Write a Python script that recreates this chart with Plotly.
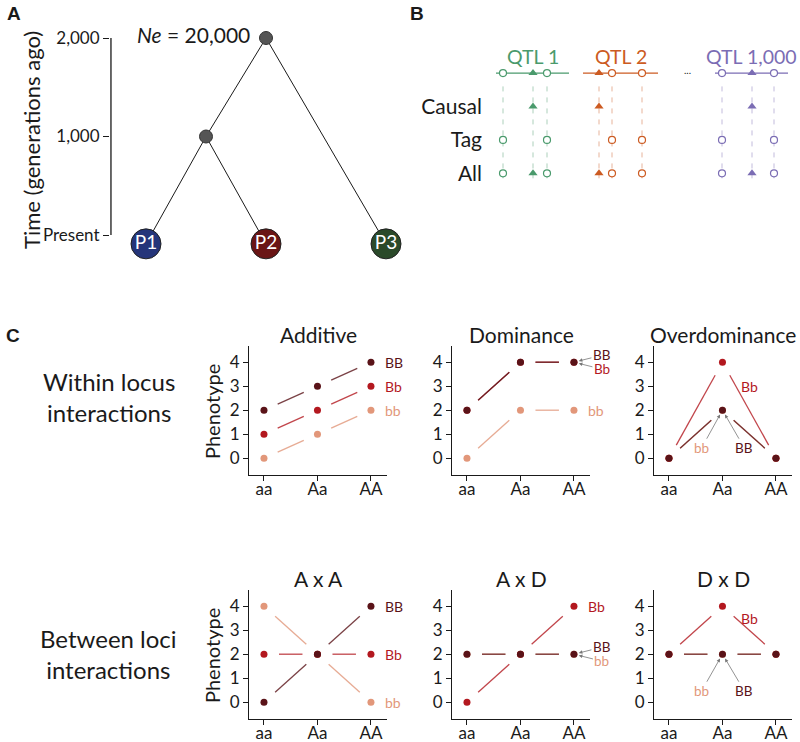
import plotly.graph_objects as go

W, H = 800, 742
FONT = "Lato"

# ---- panel A: population tree
pop_names = ["P1", "P2", "P3"]
pop_x = [0, 1, 2]
pop_colors = ["#25357a", "#6a1515", "#2b4a2a"]
node_x = [1.0, 0.5]          # root, inner split
node_time = [2000, 1000]
time_ticks = [0, 1000, 2000]
time_labels = ["Present", "1,000", "2,000"]
ne_text = "20,000"

# ---- panel B: QTL / SNP sets
qtl_names = ["QTL 1", "QTL 2", "QTL 1,000"]
qtl_start = [11, 98, 230]
qtl_end = [84, 173, 303]
qtl_snps = [[18, 48, 62], [114, 127, 157], [237, 267, 289]]
qtl_causal = [[0, 1, 0], [1, 0, 0], [0, 1, 0]]
qtl_colors = ["#4a9a6c", "#cc5b22", "#7b6db4"]
snp_rows = ["Causal", "Tag", "All"]

# ---- panel C: genotype x phenotype
genotypes = ["aa", "Aa", "AA"]
models = ["Additive", "Dominance", "Overdominance", "A x A", "A x D", "D x D"]
BB = [[2, 3, 4], [2, 4, 4], [0, 2, 0], [0, 2, 4], [2, 2, 2], [2, 2, 2]]
Bb = [[1, 2, 3], [2, 4, 4], [0, 4, 0], [2, 2, 2], [0, 2, 4], [2, 4, 2]]
bb = [[0, 1, 2], [0, 2, 2], [0, 2, 0], [4, 2, 0], [2, 2, 2], [2, 2, 2]]
b_colors = {"BB": "#5a1318", "Bb": "#b3181f", "bb": "#e2977a"}


def px(x):
    return x / W


def py(y):
    return 1 - y / H


fig = go.Figure()
black = "#1a1a1a"

# ================= panel A =================
POP_Y = -90  # circles sit a little below the "Present" tick
edges = [(node_x[0], node_time[0], node_x[1], node_time[1]),
         (node_x[1], node_time[1], pop_x[0], POP_Y),
         (node_x[1], node_time[1], pop_x[1], POP_Y),
         (node_x[0], node_time[0], pop_x[2], POP_Y)]
ex, ey = [], []
for x0, y0, x1, y1 in edges:
    ex += [x0, x1, None]
    ey += [y0, y1, None]
# time axis line (0 .. 2000 only)
fig.add_trace(go.Scatter(x=[-0.292, -0.292], y=[0, 2000], mode="lines",
                         line=dict(color=black, width=1.3), xaxis="x", yaxis="y", hoverinfo="skip"))
fig.add_trace(go.Scatter(x=ex, y=ey, mode="lines", line=dict(color=black, width=1),
                         xaxis="x", yaxis="y", hoverinfo="skip"))
fig.add_trace(go.Scatter(x=node_x, y=node_time, mode="markers", cliponaxis=False,
                         marker=dict(size=13, color="#555555", line=dict(color="#333", width=1)),
                         xaxis="x", yaxis="y"))
fig.add_trace(go.Scatter(x=pop_x, y=[POP_Y] * 3, mode="markers+text", cliponaxis=False,
                         text=pop_names, textposition="middle center",
                         textfont=dict(color="white", size=19, family=FONT),
                         marker=dict(size=30, color=pop_colors, line=dict(color="#222", width=1)),
                         xaxis="x", yaxis="y"))

# ================= panel B =================
for q in range(len(qtl_names)):
    c = qtl_colors[q]
    for p in qtl_snps[q]:
        fig.add_trace(go.Scatter(x=[p, p], y=[2.6, -0.15], mode="lines", opacity=0.45,
                                 line=dict(color=c, width=1, dash="5px,6px"),
                                 xaxis="x2", yaxis="y2", hoverinfo="skip"))
    fig.add_trace(go.Scatter(x=[qtl_start[q], qtl_end[q]], y=[3, 3], mode="lines",
                             line=dict(color=c, width=1.3), xaxis="x2", yaxis="y2"))
    circ = [p for p, k in zip(qtl_snps[q], qtl_causal[q]) if not k]
    tri = [p for p, k in zip(qtl_snps[q], qtl_causal[q]) if k]
    for row in [3, 0, 1]:
        fig.add_trace(go.Scatter(x=circ, y=[row] * len(circ), mode="markers", cliponaxis=False,
                                 marker=dict(symbol="circle", size=7, color="white",
                                             line=dict(color=c, width=1.2)),
                                 xaxis="x2", yaxis="y2"))
    for row in [3, 2, 0]:
        fig.add_trace(go.Scatter(x=tri, y=[row] * len(tri), mode="markers", cliponaxis=False,
                                 marker=dict(symbol="triangle-up", size=8, color=c),
                                 xaxis="x2", yaxis="y2"))

# ================= panel C =================
COL_L = [249, 452, 654]
COL_W = 138
ROW_T = [346, 590]
ROW_H = 129
XR = [-0.28, 2.3]
YR = [-0.7, 4.675]
SX = COL_W / (XR[1] - XR[0])
SY = ROW_H / (YR[1] - YR[0])


def segments(vals, gap=15):
    xs, ys = [], []
    for i in range(len(vals) - 1):
        dy = vals[i + 1] - vals[i]
        L = (SX ** 2 + (dy * SY) ** 2) ** 0.5
        t0, t1 = gap / L, 1 - gap / L
        xs += [i + t0, i + t1, None]
        ys += [vals[i] + dy * t0, vals[i] + dy * t1, None]
    return xs, ys


def paper_text(x, y, text, size, color=black, family=FONT, **kw):
    d = dict(x=px(x), y=py(y), xref="paper", yref="paper", text=text, showarrow=False,
             xanchor="center", yanchor="middle", font=dict(size=size, color=color, family=family))
    d.update(kw)
    return d


layout_axes = {}
annos = []
for k, name in enumerate(models):
    r, cidx = divmod(k, 3)
    ax = k + 3
    xa, ya = "x%d" % ax, "y%d" % ax
    series = [("bb", bb[k]), ("Bb", Bb[k]), ("BB", BB[k])]
    for lab, vals in series:
        sx, sy = segments(vals)
        fig.add_trace(go.Scatter(x=sx, y=sy, mode="lines", opacity=0.8,
                                 line=dict(color=b_colors[lab], width=1.3),
                                 xaxis=xa, yaxis=ya, hoverinfo="skip"))
    for lab, vals in series:
        fig.add_trace(go.Scatter(x=[0, 1, 2], y=vals, mode="markers", cliponaxis=False,
                                 marker=dict(size=7, color=b_colors[lab]),
                                 xaxis=xa, yaxis=ya))
    x0 = COL_L[cidx]
    y0 = ROW_T[r]
    axstyle = dict(showline=True, linecolor=black, linewidth=1.2, ticks="outside",
                   ticklen=5, tickcolor=black, tickwidth=1.2, showgrid=False, zeroline=False,
                   automargin=False, tickfont=dict(size=17, color=black, family=FONT))
    layout_axes["xaxis%d" % ax] = dict(domain=[px(x0), px(x0 + COL_W)], anchor=ya, range=XR,
                                       tickvals=[0, 1, 2], ticktext=genotypes,
                                       ticklabelstandoff=-7, **axstyle)
    layout_axes["yaxis%d" % ax] = dict(domain=[py(y0 + ROW_H), py(y0)], anchor=xa, range=YR,
                                       tickvals=[0, 1, 2, 3, 4], **axstyle)
    annos.append(paper_text(x0 + COL_W / 2, y0 - 12, name, 21))
    if cidx == 0:
        annos.append(paper_text(212, y0 + 66, "Phenotype", 20, textangle=-90))


# series labels in panel C
def lab(ax, x, y, text, key, **kw):
    d = dict(x=x, y=y, xref="x%d" % ax, yref="y%d" % ax, text=text, xanchor="center",
             yanchor="middle", font=dict(size=14, color=b_colors[key], family=FONT),
             showarrow=False)
    d.update(kw)
    annos.append(d)


def arrow_lab(ax, x, y, text, key, dx, dy):
    annos.append(dict(x=x, y=y, xref="x%d" % ax, yref="y%d" % ax, text=text,
                      font=dict(size=13.5, color=b_colors[key], family=FONT), showarrow=True,
                      ax=dx, ay=dy, arrowhead=2, arrowsize=0.9, arrowwidth=0.8,
                      arrowcolor="#777777", standoff=5, startstandoff=0))


for key, vals in [("BB", BB[0]), ("Bb", Bb[0]), ("bb", bb[0])]:
    lab(3, 2, vals[2], key, key, xanchor="left", xshift=12)
arrow_lab(4, 2, BB[1][2], "BB", "BB", 28, -7)
arrow_lab(4, 2, Bb[1][2], "Bb", "Bb", 28, 7)
lab(4, 2, bb[1][2], "bb", "bb", xanchor="left", xshift=12)
lab(5, 1.5, 3.0, "Bb", "Bb")
arrow_lab(5, 1, 2, "bb", "bb", -21, 38)
arrow_lab(5, 1, 2, "BB", "BB", 22, 38)
for key, vals in [("BB", BB[3]), ("Bb", Bb[3]), ("bb", bb[3])]:
    lab(6, 2, vals[2], key, key, xanchor="left", xshift=12)
lab(7, 2, Bb[4][2], "Bb", "Bb", xanchor="left", xshift=12)
arrow_lab(7, 2, BB[4][2], "BB", "BB", 28, -7)
arrow_lab(7, 2, bb[4][2], "bb", "bb", 28, 7)
lab(8, 1.5, 3.5, "Bb", "Bb")
arrow_lab(8, 1, 2, "bb", "bb", -21, 37)
arrow_lab(8, 1, 2, "BB", "BB", 22, 37)

# row labels, panel letters, misc text
annos += [
    paper_text(109, 397, "Within locus<br>interactions", 24),
    paper_text(108, 654, "Between loci<br>interactions", 24),
    paper_text(14, 14, "<b>A</b>", 19, family="Liberation Sans"),
    paper_text(417, 14, "<b>B</b>", 19, family="Liberation Sans"),
    paper_text(13, 335, "<b>C</b>", 19, family="Liberation Sans"),
    paper_text(32, 140, "Time (generations ago)", 22, textangle=-90),
    dict(x=node_x[0], y=node_time[0], xref="x", yref="y", xanchor="right", yanchor="middle",
         xshift=-14, yshift=4, showarrow=False, text="<i>Ne</i> = " + ne_text,
         font=dict(size=21, color=black, family=FONT)),
]
for q in range(len(qtl_names)):
    annos.append(dict(x=(qtl_start[q] + qtl_end[q]) / 2, y=3, xref="x2", yref="y2", yshift=17,
                      xanchor="center", yanchor="middle", showarrow=False, text=qtl_names[q],
                      font=dict(size=19.5, color=qtl_colors[q], family=FONT)))
annos.append(dict(x=202, y=3, xref="x2", yref="y2", showarrow=False, text="...", yshift=3,
                  xanchor="center", yanchor="middle", font=dict(size=10, color=black, family=FONT)))

# panel A: extend the time range below 0 so the population circles show
A_TOP, A_ZERO, A_BOT = 38, 235, 272
gen_per_px = 2000 / (A_ZERO - A_TOP)

fig.update_layout(
    width=W, height=H, margin=dict(l=0, r=0, t=0, b=0, autoexpand=False),
    paper_bgcolor="white", plot_bgcolor="rgba(0,0,0,0)", showlegend=False,
    font=dict(family=FONT, color=black),
    xaxis=dict(domain=[px(110), px(410)], range=[-0.3, 2.2], visible=False, anchor="y",
               automargin=False),
    yaxis=dict(domain=[py(A_BOT), py(A_TOP)], range=[-(A_BOT - A_ZERO) * gen_per_px, 2000],
               anchor="x", showline=False, ticks="outside", ticklen=6, tickcolor=black,
               tickwidth=1.2, tickvals=time_ticks, ticktext=time_labels, showgrid=False,
               zeroline=False, automargin=False,
               tickfont=dict(size=17, color=black, family=FONT)),
    xaxis2=dict(domain=[px(483), px(800)], range=[-2, 315], visible=False, anchor="y2",
                automargin=False),
    yaxis2=dict(domain=[py(190), py(53)], range=[-0.5, 3.6], anchor="x2", showline=False,
                ticks="", tickvals=[2, 1, 0], ticktext=snp_rows, showgrid=False, zeroline=False,
                automargin=False, tickfont=dict(size=21, color=black, family=FONT)),
    annotations=annos,
    **layout_axes,
)

# drop the browser's default 8px body margin so the figure fills the window
fig.write_html("out.html", config={"displayModeBar": False},
               post_script="document.body.style.margin='0';")
